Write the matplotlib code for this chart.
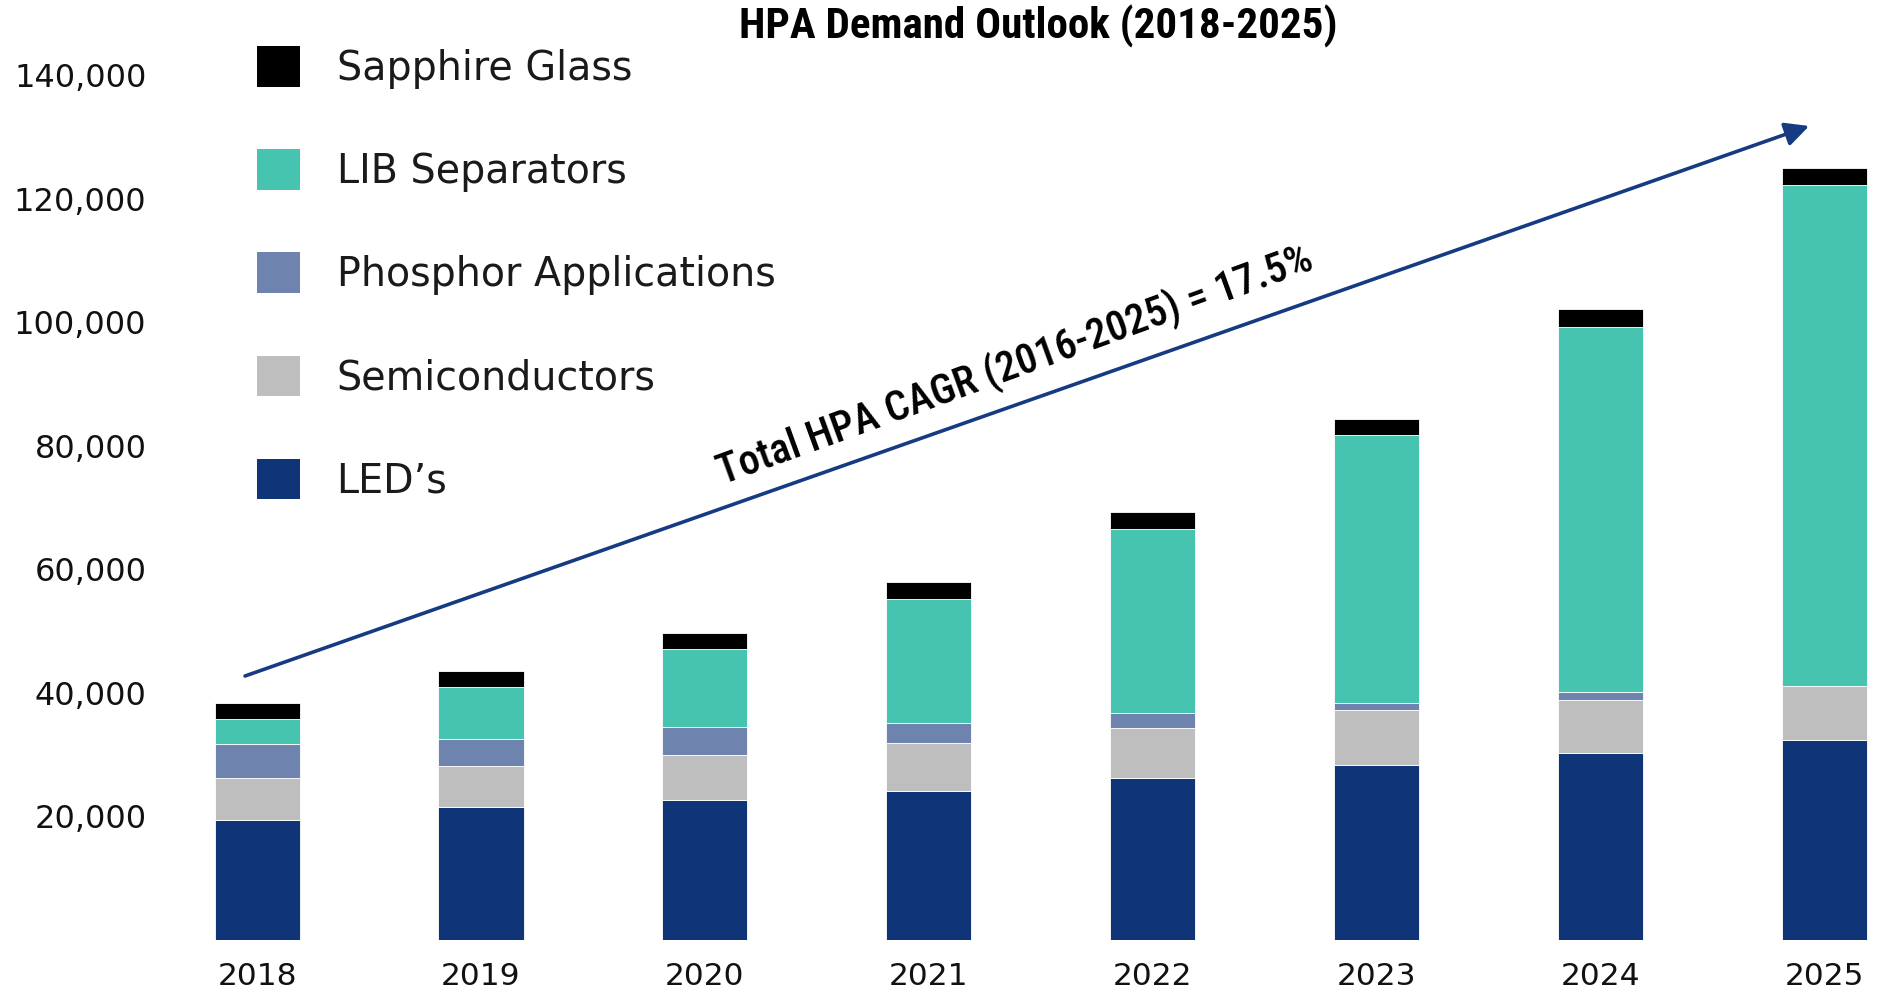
import matplotlib
matplotlib.use("Agg")
import matplotlib.pyplot as plt
from matplotlib import font_manager as fm
from matplotlib.patches import Patch
import numpy as np

# ---- data ----
years = ["2018", "2019", "2020", "2021", "2022", "2023", "2024", "2025"]
leds = [19500, 21600, 22700, 24200, 26200, 28400, 30200, 32400]
semiconductors = [6800, 6600, 7300, 7700, 8200, 8800, 8700, 8700]
phosphor = [5500, 4300, 4500, 3300, 2300, 1200, 1200, 0]
lib_separators = [3900, 8400, 12600, 20000, 29800, 43300, 59200, 81200]
sapphire = [2750, 2600, 2600, 2750, 2800, 2600, 2800, 2700]
series_names = ["LED\u2019s", "Semiconductors", "Phosphor Applications",
                "LIB Separators", "Sapphire Glass"]
series_colors = ["#0f3477", "#bdbebd", "#6e83ad", "#46c4af", "#000000"]
yticks = [20000, 40000, 60000, 80000, 100000, 120000, 140000]
ytick_labels = ["20,000", "40,000", "60,000", "80,000", "100,000", "120,000", "140,000"]
title = "HPA Demand Outlook (2018-2025)"
cagr_text = "Total HPA CAGR (2016-2025) = 17.5%"

_files = {f.fname.split("/")[-1]: f.fname for f in fm.fontManager.ttflist}


def find_font(candidates, size, fallback_weight):
    for fn in candidates:
        if fn in _files:
            return fm.FontProperties(fname=_files[fn], size=size)
    return fm.FontProperties(family="DejaVu Sans", weight=fallback_weight,
                             stretch="condensed", size=size)


title_fp = find_font(["RobotoCondensed-Black.ttf", "RobotoCondensed-ExtraBold.ttf",
                      "RobotoCondensed-Bold.ttf", "FiraSansCondensed-Black.ttf"], 31, "bold")
cagr_fp = find_font(["RobotoCondensed-Medium.ttf", "RobotoCondensed-Regular.ttf",
                     "FiraSansCondensed-Medium.ttf"], 30, "normal")

W, H = 1877, 997
fig = plt.figure(figsize=(W / 100, H / 100), dpi=100)
ax_left, ax_bottom_px = 170, 940
ax = fig.add_axes([ax_left / W, (H - ax_bottom_px) / H, (W - ax_left) / W, ax_bottom_px / H])

x = np.arange(len(years))
series = [leds, semiconductors, phosphor, lib_separators, sapphire]
bottom = np.zeros(len(years))
for vals, name, col in zip(series, series_names, series_colors):
    ax.bar(x, vals, width=0.38, bottom=bottom, color=col, edgecolor="white",
           linewidth=0.6, label=name)
    bottom += np.array(vals)

ax.set_xlim(-0.389, 7.235)
ax.set_ylim(0, 152190)
for s in ax.spines.values():
    s.set_visible(False)
ax.set_yticks(yticks)
ax.set_yticklabels(ytick_labels, fontsize=23, family="DejaVu Sans", color="#111111")
ax.set_xticks(x)
ax.set_xticklabels(years, fontsize=22.5, family="DejaVu Sans", color="#111111")
ax.tick_params(axis="y", length=0, pad=17)
ax.tick_params(axis="x", length=0, pad=16)

# legend
handles = [Patch(facecolor=c, edgecolor="none") for c in series_colors][::-1]
labels = series_names[::-1]
ax.legend(handles, labels, loc="upper left", bbox_to_anchor=(257 / W, 1 - 46 / H),
          bbox_transform=fig.transFigure, frameon=False, borderpad=0, borderaxespad=0,
          handlelength=1.08, handleheight=1.2, handletextpad=0.93, labelspacing=1.53,
          prop=dict(family="DejaVu Sans", size=28.5), labelcolor="#1a1a1a")

# CAGR arrow and text
ax.annotate("", xy=(6.932, 131790), xytext=(-0.054, 42740),
            arrowprops=dict(arrowstyle="-|>,head_length=0.4,head_width=0.2",
                            mutation_scale=36, lw=2.6, color="#163b82",
                            shrinkA=0, shrinkB=0))
ax.text(3.385, 93090, cagr_text, rotation=20, rotation_mode="anchor",
        ha="center", va="center", color="black", fontproperties=cagr_fp)

fig.text(1038 / W, 1 - 26 / H, title, ha="center", va="center",
         color="black", fontproperties=title_fp)

fig.savefig("out.png", dpi=100)
